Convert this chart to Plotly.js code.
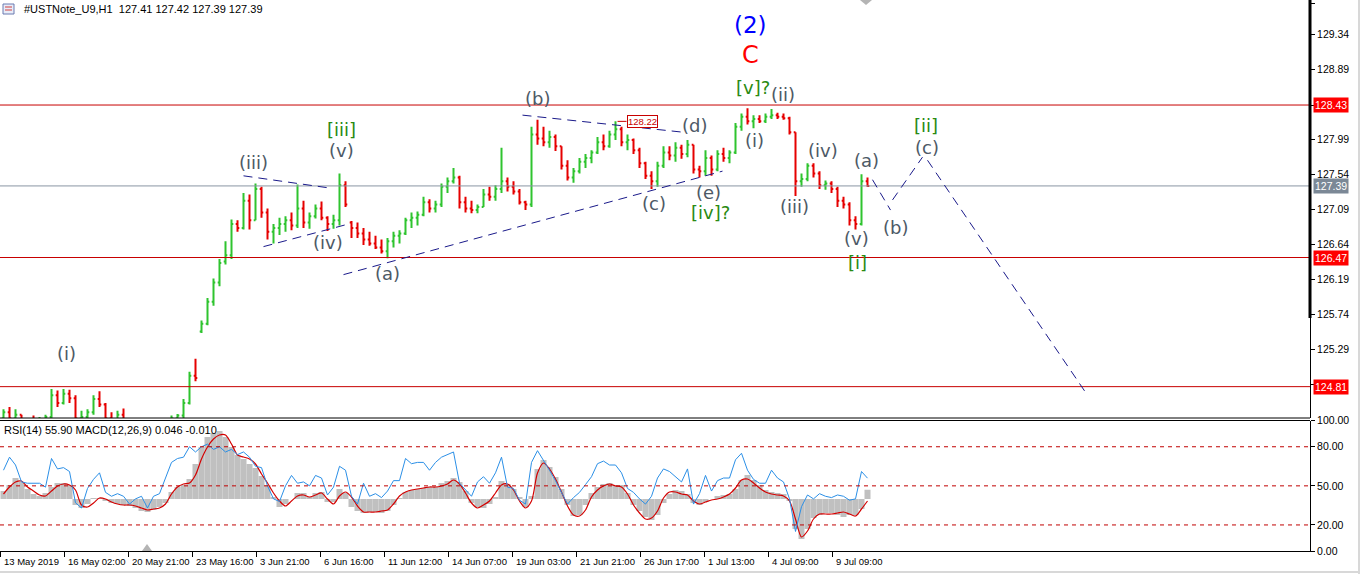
<!DOCTYPE html>
<html><head><meta charset="utf-8">
<script src="https://cdn.plot.ly/plotly-3.0.1.min.js"></script>
<style>html,body{margin:0;padding:0;background:#fff;overflow:hidden}</style>
</head><body>
<div id="chart" style="width:1361px;height:574px"></div>
<script>
// ---- price data: each plotted bar aggregates 6 hourly bars ----
const opens = [
124.40,124.48,124.40,124.45,124.30,124.35,124.30,124.38,124.42,124.70,
124.60,124.72,124.66,124.40,124.42,124.48,124.65,124.58,124.40,124.38,
124.45,124.32,124.25,124.20,124.18,124.22,124.28,124.25,124.33,124.40,
124.44,124.60,124.95,125.52,125.62,125.90,126.15,126.42,126.50,126.90,
126.85,127.20,126.95,127.35,127.05,126.80,126.85,126.90,126.95,126.88,
127.10,126.92,127.00,127.10,126.98,126.90,126.95,127.40,126.92,126.85,
126.78,126.70,126.65,126.60,126.55,126.68,126.75,126.78,126.95,126.98,
127.02,127.18,127.10,127.15,127.38,127.45,127.50,127.18,127.10,127.08,
127.12,127.28,127.25,127.35,127.45,127.38,127.32,127.18,127.15,128.05,
128.00,127.95,128.02,127.90,127.65,127.50,127.58,127.70,127.75,127.82,
127.95,127.90,128.05,128.12,127.95,127.98,127.85,127.68,127.52,127.45,
127.65,127.82,127.78,127.88,127.80,127.92,127.60,127.58,127.75,127.60,
127.80,127.75,127.82,128.15,128.28,128.22,128.25,128.22,128.28,128.30,
128.28,128.26,128.08,127.45,127.48,127.65,127.55,127.40,127.42,127.35,
127.20,127.15,126.95,126.90,127.45];
const highs = [
124.52,124.55,124.52,124.45,124.40,124.44,124.42,124.45,124.78,124.76,
124.78,124.77,124.70,124.50,124.52,124.70,124.75,124.60,124.48,124.50,
124.53,124.36,124.32,124.30,124.28,124.32,124.34,124.35,124.44,124.46,
124.65,125.00,125.17,125.66,125.95,126.20,126.45,126.68,126.96,126.95,
127.30,127.28,127.42,127.38,127.10,126.90,126.98,127.00,127.05,127.41,
127.20,127.05,127.15,127.19,127.00,127.02,127.55,127.45,126.94,126.92,
126.85,126.80,126.75,126.70,126.72,126.80,126.82,126.98,127.05,127.06,
127.25,127.22,127.20,127.42,127.50,127.62,127.52,127.25,127.20,127.15,
127.35,127.38,127.40,127.88,127.50,127.45,127.35,127.20,128.15,128.24,
128.15,128.10,128.05,127.90,127.72,127.62,127.75,127.80,127.85,128.02,
128.05,128.10,128.22,128.15,128.05,128.00,127.88,127.70,127.58,127.70,
127.90,127.90,127.95,127.92,127.98,127.92,127.65,127.85,127.78,127.85,
127.88,127.85,128.20,128.32,128.39,128.30,128.30,128.32,128.38,128.33,
128.32,128.28,128.08,127.55,127.68,127.68,127.58,127.46,127.45,127.38,
127.25,127.18,127.00,127.54,127.50];
const lows = [
124.30,124.32,124.30,124.25,124.22,124.25,124.24,124.30,124.38,124.55,
124.58,124.60,124.36,124.30,124.34,124.45,124.55,124.35,124.32,124.33,
124.30,124.20,124.15,124.12,124.10,124.15,124.18,124.20,124.28,124.36,
124.40,124.58,124.88,125.50,125.60,125.85,126.10,126.38,126.45,126.80,
126.83,126.83,126.95,126.98,126.70,126.65,126.76,126.80,126.82,126.85,
126.85,126.84,126.97,126.95,126.81,126.84,126.88,127.12,126.72,126.72,
126.63,126.62,126.58,126.52,126.46,126.60,126.65,126.76,126.85,126.88,
127.00,127.05,127.05,127.12,127.30,127.42,127.10,127.05,127.04,127.04,
127.12,127.20,127.20,127.30,127.32,127.28,127.15,127.08,127.12,127.92,
127.90,127.88,127.84,127.60,127.46,127.43,127.55,127.62,127.68,127.80,
127.85,127.88,127.98,127.90,127.85,127.80,127.62,127.48,127.35,127.38,
127.62,127.72,127.70,127.74,127.76,127.55,127.50,127.52,127.52,127.58,
127.70,127.68,127.80,128.10,128.18,128.13,128.20,128.20,128.25,128.25,
128.24,128.05,127.26,127.38,127.45,127.50,127.35,127.34,127.30,127.12,
127.10,126.88,126.83,126.88,127.38];
const closes = [
124.48,124.40,124.45,124.30,124.35,124.30,124.38,124.42,124.70,124.60,
124.72,124.66,124.40,124.42,124.48,124.65,124.58,124.40,124.38,124.45,
124.32,124.25,124.20,124.18,124.22,124.28,124.25,124.33,124.40,124.44,
124.60,124.95,124.92,125.62,125.90,126.15,126.40,126.50,126.90,126.85,
127.20,126.95,127.35,127.05,126.80,126.85,126.90,126.95,126.88,127.10,
126.92,127.00,127.10,126.98,126.90,126.95,127.40,127.15,126.85,126.78,
126.70,126.65,126.60,126.55,126.68,126.75,126.78,126.95,126.98,127.02,
127.18,127.10,127.15,127.38,127.45,127.50,127.18,127.10,127.08,127.12,
127.28,127.25,127.35,127.45,127.38,127.32,127.18,127.15,128.05,128.00,
127.95,128.02,127.90,127.65,127.50,127.58,127.70,127.75,127.82,127.95,
127.90,128.05,128.12,127.95,127.98,127.85,127.68,127.52,127.45,127.65,
127.82,127.78,127.88,127.80,127.92,127.60,127.58,127.75,127.60,127.80,
127.75,127.82,128.15,128.28,128.22,128.25,128.22,128.28,128.30,128.28,
128.26,128.08,127.45,127.48,127.65,127.55,127.40,127.42,127.35,127.20,
127.15,126.95,126.90,127.45,127.39];

// ---- indicator data ----
const rsi = [
62,72,66,53,52,52,52,49,71,63,
64,61,37,33,48,55,60,45,42,44,
42,36,40,42,33,42,44,56,68,71,
72,80,76,80,82,78,80,76,78,74,
76,72,65,64,50,40,38,50,58,52,
53,50,58,56,43,49,65,62,42,36,
52,42,44,41,46,54,54,71,67,68,
68,62,68,72,74,76,52,47,42,53,
57,52,60,72,49,48,39,36,68,77,
70,62,54,45,36,41,45,51,57,67,
69,66,66,60,48,45,40,36,42,56,
63,61,57,53,63,36,44,58,46,54,
56,56,70,75,62,55,52,52,62,56,
53,40,15,34,43,40,44,42,41,43,
42,39,40,61,55.9];
const macdHist = [
0.040,0.070,0.105,0.085,0.050,0.025,0.015,0.030,0.060,0.080,
0.080,0.070,-0.030,-0.045,-0.025,0.005,0.005,-0.010,-0.020,-0.025,
-0.030,-0.035,-0.045,-0.060,-0.065,-0.055,-0.040,-0.020,0.035,0.060,
0.070,0.100,0.175,0.260,0.310,0.330,0.340,0.310,0.260,0.220,
0.200,0.175,0.155,0.115,0.070,0.010,-0.040,-0.025,0.000,0.030,
0.030,0.010,0.030,0.035,-0.015,-0.015,0.050,0.030,-0.040,-0.060,
-0.070,-0.065,-0.065,-0.070,-0.060,-0.030,0.005,0.035,0.045,0.050,
0.055,0.060,0.060,0.080,0.090,0.105,0.085,0.040,-0.020,-0.040,
-0.045,-0.025,0.010,0.090,0.075,0.050,0.010,-0.040,0.015,0.150,
0.195,0.160,0.110,0.050,-0.030,-0.085,-0.080,-0.030,0.030,0.060,
0.075,0.080,0.070,0.070,0.030,-0.030,-0.060,-0.090,-0.105,-0.080,
-0.020,0.025,0.045,0.040,0.025,-0.020,-0.030,-0.015,0.000,0.015,
0.020,0.025,0.050,0.095,0.120,0.095,0.070,0.045,0.035,0.030,
0.025,-0.010,-0.150,-0.200,-0.150,-0.095,-0.080,-0.070,-0.070,-0.080,
-0.090,-0.080,-0.080,-0.050,0.046];
const macdSignal = [
0.025,0.060,0.085,0.090,0.060,0.040,0.020,0.015,0.040,0.065,
0.075,0.070,0.045,-0.030,-0.040,-0.020,0.005,0.000,-0.015,-0.025,
-0.030,-0.030,-0.035,-0.045,-0.055,-0.050,-0.045,-0.025,0.025,0.060,
0.075,0.080,0.120,0.200,0.260,0.300,0.320,0.320,0.275,0.220,
0.210,0.200,0.175,0.125,0.080,0.030,-0.010,-0.035,-0.010,0.015,
0.020,0.010,0.020,0.030,0.000,-0.025,0.015,0.035,0.010,-0.035,
-0.065,-0.065,-0.065,-0.060,-0.055,-0.025,0.015,0.035,0.045,0.050,
0.055,0.060,0.060,0.065,0.075,0.095,0.075,0.030,-0.020,-0.045,
-0.030,-0.010,0.030,0.070,0.075,0.045,-0.010,-0.045,-0.010,0.130,
0.180,0.150,0.100,0.035,-0.035,-0.080,-0.085,-0.055,0.010,0.045,
0.065,0.075,0.065,0.060,0.025,-0.030,-0.070,-0.100,-0.095,-0.060,
0.005,0.035,0.035,0.025,0.020,-0.010,-0.025,-0.015,-0.005,0.000,
0.010,0.025,0.055,0.095,0.100,0.080,0.055,0.035,0.025,0.020,
0.015,-0.010,-0.100,-0.190,-0.160,-0.100,-0.075,-0.075,-0.075,-0.070,
-0.065,-0.075,-0.085,-0.050,-0.010];

// ---- axis labels ----
const timeLabels = ["13 May 2019","16 May 02:00","20 May 21:00","23 May 16:00","3 Jun 21:00",
  "6 Jun 16:00","11 Jun 12:00","14 Jun 07:00","19 Jun 03:00","21 Jun 21:00",
  "26 Jun 17:00","1 Jul 13:00","4 Jul 09:00","9 Jul 09:00"];
const hoursPerLabel = 64;
const hoursPerBar = 6;
const priceTicks = [129.74,129.34,128.89,128.43,127.99,127.54,127.09,126.64,126.19,125.74,125.29,124.84];
const rsiTicks = [0,20,50,80,100];
const redLevels = [128.43,126.47,124.81];
const currentPrice = 127.39;
const rsiLevels = [20,50,80];

// ---- wave annotations [text, hour index, price, colour, size] ----
const GREY = '#4d5966', GREEN = '#2a8a12', BLUE = '#0000ff', RED = '#ff0000';
const waveLabels = [
  ["(2)",750,129.46,BLUE,23],["C",750,129.07,RED,24],
  ["[v]?",752,128.65,GREEN,18],["(ii)",782,128.56,GREY,18],["(i)",754,127.98,GREY,18],
  ["(iii)",794,127.12,GREY,18],["(iv)",822,127.85,GREY,18],["(v)",856,126.72,GREY,18],
  ["[i]",857,126.41,GREEN,18],["(a)",866,127.72,GREY,18],["(b)",895,126.86,GREY,18],
  ["[ii]",925,128.17,GREEN,18],["(c)",926,127.89,GREY,18],
  ["(b)",537,128.52,GREY,18],["(d)",694,128.17,GREY,18],["(c)",653,127.17,GREY,18],
  ["(e)",708,127.30,GREY,18],["[iv]?",710,127.05,GREEN,18],
  ["[iii]",341,128.12,GREEN,18],["(v)",341,127.84,GREY,18],["(iii)",253,127.69,GREY,18],
  ["(iv)",327,126.66,GREY,18],["(a)",387,126.27,GREY,18],["(i)",66,125.23,GREY,18]
];
// dashed wave lines [x0, p0, x1, p1]
const waveLines = [
  [243,127.52,331,127.36],[263,126.61,345,126.89],[343,126.25,722,127.58],
  [522,128.30,683,128.08],
  [872,127.47,890,127.08],[892,127.21,922,127.76],[927,127.72,1087,124.70]
];

const xs = opens.map((_, i) => i * hoursPerBar + hoursPerBar / 2);
const tickPos = timeLabels.map((_, i) => i * hoursPerLabel);
const FONT = 'Liberation Sans, Arial, sans-serif';
const boxes = [[128.43,'#ff0000'],[currentPrice,'#7b8896'],[126.47,'#ff0000'],[124.81,'#ff0000']];
// tick labels hidden behind a level box are left blank
const priceTickText = priceTicks.map(v => boxes.some(b => Math.abs(b[0] - v) < 0.06) ? '' : v.toFixed(2));

const traces = [
  {type:'ohlc', x:xs, open:opens, high:highs, low:lows, close:closes, xaxis:'x', yaxis:'y',
   increasing:{line:{color:'#2fc42f', width:2}}, decreasing:{line:{color:'#e60000', width:2}},
   tickwidth:0.3, hoverinfo:'skip', showlegend:false},
  {type:'bar', x:xs, y:macdHist, width:hoursPerBar, xaxis:'x', yaxis:'y2',
   marker:{color:'#c0c0c0', line:{width:0}}, hoverinfo:'skip', showlegend:false},
  {type:'scatter', mode:'lines', x:xs, y:macdSignal, xaxis:'x', yaxis:'y2',
   line:{color:'#d40000', width:1.2, shape:'spline', smoothing:0.8}, hoverinfo:'skip', showlegend:false},
  {type:'scatter', mode:'lines', x:xs, y:rsi, xaxis:'x', yaxis:'y3',
   line:{color:'#2b8fe6', width:1}, hoverinfo:'skip', showlegend:false}
];

const shapes = [];
redLevels.forEach(p => shapes.push({type:'line', xref:'paper', yref:'y', x0:0, x1:1, y0:p, y1:p,
  line:{color:'#c80000', width:1}}));
shapes.push({type:'line', xref:'paper', yref:'y', x0:0, x1:1, y0:currentPrice, y1:currentPrice,
  line:{color:'#8a96a3', width:1}});
rsiLevels.forEach(v => shapes.push({type:'line', xref:'paper', yref:'y3', x0:0, x1:1, y0:v, y1:v,
  line:{color:'#c00000', width:1, dash:'4px,4px'}}));
waveLines.forEach(l => shapes.push({type:'line', xref:'x', yref:'y', x0:l[0], y0:l[1], x1:l[2], y1:l[3],
  line:{color:'#1a1a8a', width:1, dash:'9px,6px'}}));
// panel frames
const H = 551;
const py = y => (H - y) / H;
shapes.push({type:'line', xref:'paper', yref:'paper', x0:0, x1:1, y0:py(418), y1:py(418), line:{color:'#000', width:1}});
shapes.push({type:'line', xref:'paper', yref:'paper', x0:0, x1:1, y0:py(420.5), y1:py(420.5), line:{color:'#000', width:1}});
shapes.push({type:'line', xref:'paper', yref:'paper', x0:1, x1:1, y0:py(318), y1:1, line:{color:'#000', width:3}});
// window edges
shapes.push({type:'line', xref:'paper', yref:'paper', x0:0, x1:1358/1310, y0:py(572), y1:py(572), line:{color:'#d8d8d8', width:2}});
shapes.push({type:'line', xref:'paper', yref:'paper', x0:1359/1310, x1:1359/1310, y0:py(574), y1:1, line:{color:'#d8d8d8', width:2}});
// shift markers
shapes.push({type:'path', xref:'paper', yref:'paper',
  path:`M ${142/1310} ${py(551)} L ${152/1310} ${py(551)} L ${147/1310} ${py(544)} Z`,
  fillcolor:'#b4b4b4', line:{width:0}});
shapes.push({type:'path', xref:'paper', yref:'paper',
  path:`M ${860/1310} ${py(0)} L ${872/1310} ${py(0)} L ${866/1310} ${py(5)} Z`,
  fillcolor:'#b4b4b4', line:{width:0}});
// window icon
shapes.push({type:'rect', xref:'paper', yref:'paper', x0:3/1310, x1:14/1310, y0:py(14), y1:py(4),
  fillcolor:'#e8ecf8', line:{color:'#6b7bb0', width:1}});
[7,10].forEach(y => shapes.push({type:'line', xref:'paper', yref:'paper', x0:5/1310, x1:12/1310, y0:py(y), y1:py(y),
  line:{color:'#d04040', width:1}}));
// 128.22 connector
shapes.push({type:'line', xref:'x', yref:'y', x0:617, x1:626, y0:128.22, y1:128.22, line:{color:'#c80000', width:1}});

const annotations = [];
waveLabels.forEach(w => annotations.push({text:w[0], x:w[1], y:w[2], xref:'x', yref:'y', showarrow:false,
  font:{family:'DejaVu Sans, Verdana, sans-serif', size:w[4], color:w[3]}}));
boxes.forEach(b => annotations.push({text:b[0].toFixed(2), x:1, xref:'paper', xanchor:'left', xshift:3,
  y:b[0], yref:'y', showarrow:false, bgcolor:b[1], borderpad:1,
  font:{family:FONT, size:10.5, color:'#ffffff'}}));
// time axis labels, left-aligned right of each tick
timeLabels.forEach((t, i) => annotations.push({text:t, x:tickPos[i], xref:'x', xanchor:'left', xshift:1,
  y:py(561), yref:'paper', yanchor:'middle', showarrow:false,
  font:{family:FONT, size:9.5, color:'#000'}}));
annotations.push({text:'128.22', x:626, xanchor:'left', y:128.22, xref:'x', yref:'y', showarrow:false,
  bgcolor:'#ffffff', bordercolor:'#c80000', borderwidth:1, borderpad:0,
  font:{family:FONT, size:9.5, color:'#c80000'}});
annotations.push({text:'#USTNote_U9,H1  127.41 127.42 127.39 127.39', x:22/1310, xanchor:'left',
  y:py(9), yanchor:'middle', xref:'paper', yref:'paper', showarrow:false,
  font:{family:FONT, size:11, color:'#000'}});
annotations.push({text:'RSI(14) 55.90 MACD(12,26,9) 0.046 -0.010', x:2/1310, xanchor:'left',
  y:py(430), yanchor:'middle', xref:'paper', yref:'paper', showarrow:false,
  font:{family:FONT, size:11, color:'#000'}});

const layout = {
  width:1361, height:574, margin:{l:0, r:51, t:0, b:23},
  paper_bgcolor:'#ffffff', plot_bgcolor:'#ffffff', showlegend:false,
  font:{family:FONT, size:10, color:'#000'},
  xaxis:{range:[-0.5,1309.5], anchor:'y2', domain:[0,1], rangeslider:{visible:false},
    tickmode:'array', tickvals:tickPos, showticklabels:false,
    ticks:'outside', ticklen:5, tickcolor:'#000',
    showline:true, linecolor:'#000', linewidth:1, showgrid:false, zeroline:false, fixedrange:true},
  yaxis:{domain:[py(418),1], range:[124.407,129.78], side:'right', anchor:'x',
    tickmode:'array', tickvals:priceTicks, ticktext:priceTickText,
    ticks:'outside', ticklen:4, tickcolor:'#000', tickfont:{family:FONT, size:10.5, color:'#000'},
    showline:true, linecolor:'#000', linewidth:1, showgrid:false, zeroline:false},
  yaxis2:{domain:[0, py(420.7)], range:[-0.26,0.3915], anchor:'x', side:'right',
    showticklabels:false, ticks:'', showline:false, showgrid:false, zeroline:false},
  yaxis3:{overlaying:'y2', range:[0,100], side:'right', anchor:'x',
    tickmode:'array', tickvals:rsiTicks, ticktext:rsiTicks.map(v => v.toFixed(2)),
    ticks:'outside', ticklen:4, tickcolor:'#000', tickfont:{family:FONT, size:10.5, color:'#000'},
    showline:true, linecolor:'#000', linewidth:1, showgrid:false, zeroline:false},
  shapes:shapes, annotations:annotations
};

Plotly.newPlot('chart', traces, layout, {staticPlot:true, displayModeBar:false});
</script>
</body></html>
